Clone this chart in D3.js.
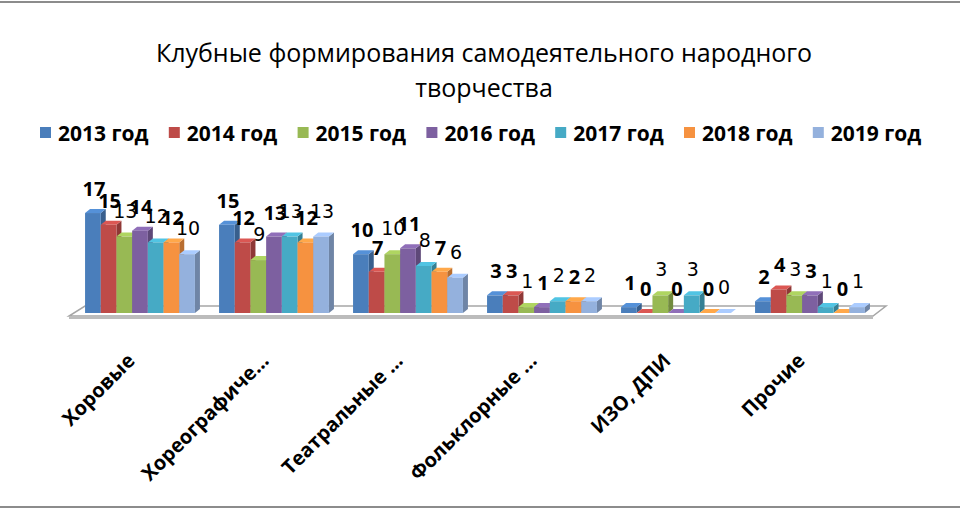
<!DOCTYPE html>
<html>
<head>
<meta charset="utf-8">
<script src="https://cdn.jsdelivr.net/npm/d3@7"></script>
<style>
  body { margin: 0; background: #fff; }
  svg { display: block; font-family: "Open Sans", sans-serif; }
</style>
</head>
<body>
<div id="chart"></div>
<script>
// chart data
const categories = ["Хоровые", "Хореографиче...", "Театральные ...", "Фольклорные ...", "ИЗО, ДПИ", "Прочие"];
const years = ["2013 год", "2014 год", "2015 год", "2016 год", "2017 год", "2018 год", "2019 год"];
const v2013 = [17, 15, 10, 3, 1, 2];
const v2014 = [15, 12, 7, 3, 0, 4];
const v2015 = [13, 9, 10, 1, 3, 3];
const v2016 = [14, 13, 11, 1, 0, 3];
const v2017 = [12, 13, 8, 2, 3, 1];
const v2018 = [12, 12, 7, 2, 0, 0];
const v2019 = [10, 13, 6, 2, 0, 1];
const colors = ["#4a7ebb", "#be4b48", "#98b954", "#7d60a0", "#46aac5", "#f69240", "#94b1dd"];
const boldLabel = [true, true, false, true, false, true, false];

const series = [v2013, v2014, v2015, v2016, v2017, v2018, v2019];

const width = 960, height = 510;
const depthX = 5, depthY = 4;   // 3d offset of the bars

const svg = d3.select("#chart").append("svg")
    .attr("width", width)
    .attr("height", height);

// frame lines top and bottom
svg.append("line").attr("x1", 0).attr("x2", width).attr("y1", 2).attr("y2", 2)
    .attr("stroke", "#8c8c8c").attr("stroke-width", 2);
svg.append("line").attr("x1", 0).attr("x2", width).attr("y1", 507).attr("y2", 507)
    .attr("stroke", "#8c8c8c").attr("stroke-width", 2);

// title
const title = svg.append("text")
    .attr("text-anchor", "middle")
    .attr("font-size", 25)
    .attr("fill", "#000");
title.append("tspan").attr("x", 484).attr("y", 62).text("Клубные формирования самодеятельного народного");
title.append("tspan").attr("x", 484).attr("y", 97).text("творчества");

// legend
const legend = svg.append("g").selectAll("g")
    .data(years)
    .enter().append("g")
    .attr("transform", function (d, i) { return "translate(" + (40 + i * 128.8) + ",127)"; });

legend.append("rect")
    .attr("width", 11).attr("height", 11)
    .attr("fill", function (d, i) { return colors[i]; });

legend.append("text")
    .attr("x", 18).attr("y", 14)
    .attr("font-size", 21)
    .attr("font-weight", "bold")
    .text(function (d) { return d; });

// scales
const x0 = d3.scaleBand()
    .domain(categories)
    .range([73, 877])
    .paddingInner(0.18)
    .paddingOuter(0.09);

const x1 = d3.scaleBand()
    .domain(d3.range(years.length))
    .range([0, x0.bandwidth()]);

const y = d3.scaleLinear()
    .domain([0, 20])
    .range([313, 195.4]);

// floor
const floorFront = 316, floorBack = 306;
svg.append("path")
    .attr("d", "M69," + floorFront + " L873," + floorFront + " L886," + floorBack + " L85," + floorBack + " Z")
    .attr("fill", "#fff")
    .attr("stroke", "#a6a6a6")
    .attr("stroke-width", 1.5);
svg.append("line")
    .attr("x1", 69).attr("x2", 873).attr("y1", floorFront + 2).attr("y2", floorFront + 2)
    .attr("stroke", "#a6a6a6").attr("stroke-width", 1.5);

// bars
const barData = [];
categories.forEach(function (c, ci) {
    series.forEach(function (s, si) {
        barData.push({ cat: c, s: si, value: s[ci] });
    });
});

const bar = svg.append("g").selectAll("g")
    .data(barData)
    .enter().append("g");

const bw = x1.bandwidth();

// side face
bar.append("path")
    .attr("d", function (d) {
        const xr = x0(d.cat) + x1(d.s) + bw, top = y(d.value), bot = y(0);
        return "M" + xr + "," + top + " L" + (xr + depthX) + "," + (top - depthY) +
            " L" + (xr + depthX) + "," + (bot - depthY) + " L" + xr + "," + bot + " Z";
    })
    .attr("fill", function (d) { return d3.color(colors[d.s]).darker(0.8); });

// top face
bar.append("path")
    .attr("d", function (d) {
        const xl = x0(d.cat) + x1(d.s), top = y(d.value);
        return "M" + xl + "," + top + " L" + (xl + bw) + "," + top +
            " L" + (xl + bw + depthX) + "," + (top - depthY) + " L" + (xl + depthX) + "," + (top - depthY) + " Z";
    })
    .attr("fill", function (d) { return d3.color(colors[d.s]).brighter(0.4); });

// front face
bar.append("rect")
    .attr("x", function (d) { return x0(d.cat) + x1(d.s); })
    .attr("y", function (d) { return y(d.value); })
    .attr("width", bw)
    .attr("height", function (d) { return y(0) - y(d.value); })
    .attr("fill", function (d) { return colors[d.s]; });

// value labels
bar.append("text")
    .attr("x", function (d) { return x0(d.cat) + x1(d.s) + bw / 2 + 1; })
    .attr("y", function (d) { return y(d.value) - (boldLabel[d.s] ? 17 : 19); })
    .attr("text-anchor", "middle")
    .attr("font-family", function (d) { return boldLabel[d.s] ? "Open Sans" : "DejaVu Sans"; })
    .attr("font-weight", function (d) { return boldLabel[d.s] ? "bold" : "normal"; })
    .attr("font-size", function (d) { return boldLabel[d.s] ? 20 : 19; })
    .attr("fill", "#000")
    .text(function (d) { return d.value; });

// category labels
svg.append("g").selectAll("text")
    .data(categories)
    .enter().append("text")
    .attr("transform", function (d) {
        return "translate(" + (x0(d) + x0.bandwidth() / 2 - 4) + ",362) rotate(-45)";
    })
    .attr("text-anchor", "end")
    .attr("font-size", 20)
    .attr("font-weight", "bold")
    .text(function (d) { return d; });
</script>
</body>
</html>
